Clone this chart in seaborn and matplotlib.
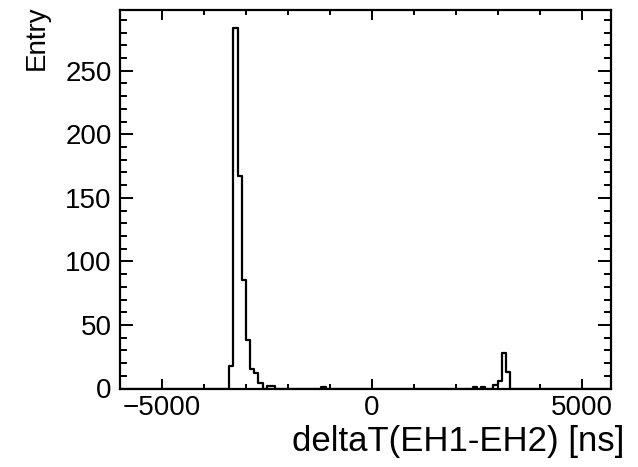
import numpy as np
import pandas as pd
import seaborn as sns
import matplotlib.pyplot as plt
from matplotlib.ticker import MultipleLocator

# histogram: left bin edge [ns] -> entries, bin width 100 ns
bin_left = [-3400, -3300, -3200, -3100, -3000, -2900, -2800, -2700,
            -2500, -2400, -1200, 2400, 2600, 2900, 3000, 3100, 3200]
entries = [18, 284, 167, 85, 38, 15, 12, 4,
           2, 2, 1, 1, 1, 3, 6, 28, 13]

bin_width = 100
x_min, x_max = -6000, 5700

data = pd.DataFrame({
    "deltaT": np.array(bin_left) + bin_width / 2,
    "Entry": entries,
})

sns.set_theme(style="ticks")
plt.rcParams["font.family"] = ["Liberation Sans", "DejaVu Sans"]

fig = plt.figure(figsize=(6.38, 4.67), dpi=100)
ax = fig.add_axes([120 / 638, 1 - 388.5 / 467, 491 / 638, 379 / 467])

sns.histplot(
    data=data,
    x="deltaT",
    weights="Entry",
    binwidth=bin_width,
    binrange=(x_min, x_max),
    element="step",
    fill=False,
    color="black",
    linewidth=1.6,
    ax=ax,
)

ax.set_xlim(x_min, x_max)
ax.set_ylim(0, max(entries) * 1.05)

ax.xaxis.set_major_locator(MultipleLocator(5000))
ax.xaxis.set_minor_locator(MultipleLocator(1000))
ax.yaxis.set_major_locator(MultipleLocator(50))
ax.yaxis.set_minor_locator(MultipleLocator(10))

ax.tick_params(which="both", direction="in", top=True, right=True,
               color="black", width=1.4, labelsize=20, labelcolor="black")
ax.tick_params(axis="y", which="major", length=9.5, pad=6)
ax.tick_params(axis="y", which="minor", length=5)
ax.tick_params(axis="x", which="major", length=7, pad=5)
ax.tick_params(axis="x", which="minor", length=3.5)

for s in ax.spines.values():
    s.set_linewidth(1.6)
    s.set_color("black")

ax.set_xlabel("deltaT(EH1-EH2) [ns]", fontsize=25, color="black", ha="right")
ax.xaxis.set_label_coords(1.028, -0.097, transform=ax.transAxes)
ax.xaxis.label.set_va("top")

ax.set_ylabel("Entry", fontsize=20, color="black", ha="right")
ax.yaxis.set_label_coords(-0.17, 1.012, transform=ax.transAxes)
ax.yaxis.label.set_va("center")

fig.savefig("out.png", dpi=100, facecolor="white")
